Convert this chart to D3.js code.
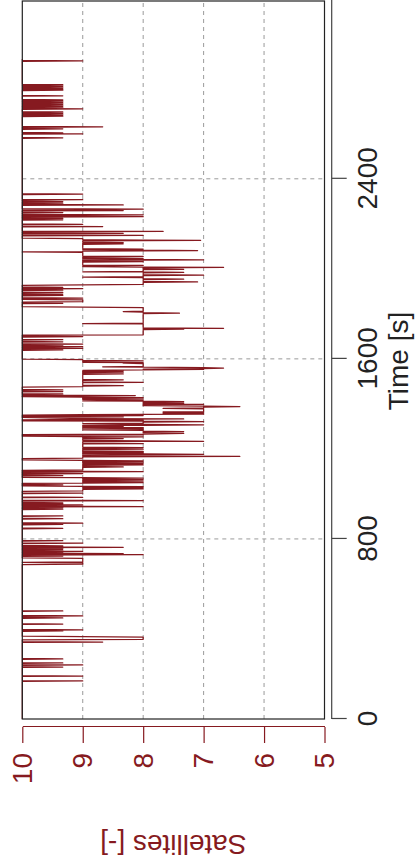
<!DOCTYPE html>
<html>
<head>
<meta charset="utf-8">
<script src="https://cdn.jsdelivr.net/npm/d3@7"></script>
<style>
  html, body { margin: 0; padding: 0; background: #fff; }
  svg { display: block; }
  text { font-family: "Liberation Sans", Arial, sans-serif; }
</style>
</head>
<body>
<svg id="chart" width="416" height="866"></svg>
<script>
// ---- data ----
const timeTicks = [0, 800, 1600, 2400];
const satTicks = [10, 9, 8, 7, 6, 5];
const timeLabel = "Time [s]";
const satLabel = "Satellites [-]";
// [time (s), satellites]
const samples = [
[0,10],
[167,10],[169,9],[171,10],
[189,10],[191,9],[193,10],
[229,10],[231,9.33],[233,10],
[238,10],[240,9],[242,10],
[247,10],[249,9.33],[251,10],
[265,10],[267,9.33],[269,10],
[340,10],[342,8.67],[344,10],
[352,10],[354,8],[364,8],[366,9],[368,10],
[389,10],[391,9.33],[393,10],
[394,10],[396,9],[398,10],
[420,10],[422,9.33],[424,10],
[447,10],[449,9.33],[451,10],
[456,10],[458,9],[460,10],
[478,10],[480,9.33],[482,10],
[686,10],[688,9],[694,9],[696,10],[698,9],[714,9],[716,10],
[722,10],[724,9.33],[726,10],
[728,10],[730,8],[732,10],
[733,10],[735,8.33],[737,10],
[738,10],[739,9.33],[741,10],
[743,10],[745,9],[747,10],
[749,10],[751,9.33],[753,10],
[755,10],[757,9.33],[759,10],
[761,10],[763,8.33],[765,10],
[767,10],[769,9.33],[771,10],
[779,10],[781,9],[783,10],
[790,10],[792,9.33],[794,10],
[845,10],[847,9.33],[849,10],
[863,10],[865,9.33],[867,10],
[868,10],[870,9],[872,10],
[888,10],[890,9.33],[892,10],
[900,10],[902,9.33],[904,10],
[930,10],[932,9.33],[934,10],
[937,10],[939,9.33],[941,10],
[942,10],[944,8],[946,10],
[949,10],[951,9],[953,10],
[955,10],[956,9.33],[958,10],[960,9.33],[962,10],
[968,10],[970,8],[972,10],
[983,10],[985,9],[987,10],
[1001,10],[1003,9],[1005,10],
[1011,10],[1013,9],[1020,9],[1022,8],[1024,9],[1027,8],[1029,9],[1032,8],[1034,9],[1036,10],
[1038,10],[1040,9.33],[1042,10],
[1047,10],[1048,9],[1050,8],[1052,9],[1055,9],[1057,8],[1059,9],[1061,9],[1063,8],[1065,9],[1068,9],[1070,8],[1072,9],[1074,10],
[1079,10],[1081,9.33],[1083,10],
[1088,10],[1090,9],[1092,10],
[1097,10],[1099,8],[1101,10],
[1105,10],[1107,9],[1118,9],[1120,8.33],[1122,9],[1127,9],[1129,8],[1131,9],[1133,9],[1135,8],[1137,9],[1139,9],[1141,8],[1143,9],[1145,9],[1147,8],[1149,9],[1151,10],
[1157,10],[1159,9],[1165,9],[1167,6.4],[1169,9],[1173,9],[1175,8],[1176,7],[1178,8],[1180,9],[1181,9],[1183,8],[1185,9],[1187,9],[1189,8],[1191,9],[1197,9],[1199,8],[1201,9],[1204,9],[1206,8],[1208,9],[1222,9],[1224,8],[1226,9],[1232,9],[1233,8],[1234,7],[1236,8],[1238,9],[1244,9],[1246,8.33],[1248,9],[1251,9],[1253,8],[1255,9],[1257,10],
[1260,10],[1262,8],[1264,10],
[1265,9],[1266,8],[1269,7.33],[1271,8],[1275,8],[1277,7.33],[1279,8],[1282,8],[1284,9],[1286,8],[1290,8],[1292,9],[1294,8],[1297,9],[1299,8.33],[1301,9],[1304,9],[1305,8],[1307,7],[1309,8],[1312,9],[1314,8],[1319,8],[1321,7],[1323,8],[1325,10],[1327,8],[1329,10],
[1331,9],[1333,7.33],[1335,9],
[1340,10],[1342,8.33],[1344,10],
[1346,10],[1348,8],[1350,10],
[1352,9],[1354,7],[1356,7.67],[1358,7],[1360,7.67],[1362,7],[1364,7.67],[1366,7],[1378,7],[1380,7.67],[1382,7],[1386,7],[1388,6.4],[1390,7],[1392,8],[1396,8],[1398,7],[1400,8],[1401,8],[1403,7.33],[1405,8],[1408,8],[1410,7.33],[1412,8],[1413,9],[1415,8],[1419,9],[1421,8],[1423,9],[1426,9],[1428,8],[1430,9],[1432,10],
[1435,10],[1437,8.13],[1439,10],
[1442,10],[1444,9.33],[1446,10],
[1453,10],[1455,9.33],[1457,10],
[1460,10],[1462,9.33],[1464,10],
[1475,10],[1477,9],[1479,9],[1481,8.33],[1483,9],[1494,9],[1496,8],[1498,9],[1505,9],[1507,8.33],[1509,9],[1531,9],[1533,8.33],[1535,9],[1539,9],[1541,8.33],[1543,9],[1545,9],[1547,8.33],[1549,9],[1551,8],[1553,7],[1555,8],[1557,7],[1559,6.67],[1561,7],[1563,8],[1565,8.67],[1567,8],[1579,8],[1581,8.33],[1583,8],[1585,9],[1589,9],[1591,8],[1593,9],[1597,9],[1599,10],
[1638,10],[1640,9.33],[1642,10],
[1645,10],[1647,9],[1649,10],
[1652,10],[1654,9],[1656,10],
[1659,10],[1661,9.33],[1663,10],
[1664,10],[1666,9],[1668,10],
[1674,10],[1676,9.33],[1678,10],
[1683,10],[1685,9.33],[1687,10],
[1697,10],[1699,9],[1701,10],
[1705,10],[1707,8],[1730,8],[1732,7.33],[1734,8],[1735,8],[1736,6.67],[1738,8],[1755,8],[1757,9],[1759,8],[1801,8],[1803,7.4],[1805,8],[1808,8],[1810,8.33],[1812,8],[1828,8],[1830,9],[1832,10],
[1845,10],[1847,9.33],[1849,10],
[1852,10],[1854,9],[1862,9],[1864,10],
[1868,10],[1870,9],[1872,10],
[1880,10],[1882,9.33],[1884,10],
[1886,10],[1888,9.33],[1890,10],
[1893,10],[1895,9.33],[1897,10],
[1903,10],[1905,9.33],[1907,10],
[1910,10],[1912,9],[1914,10],
[1916,10],[1918,9.33],[1920,10],
[1927,10],[1929,9],[1931,8],[1940,8],[1942,7.1],[1944,8],[1952,8],[1954,7.33],[1956,8],[1961,8],[1963,9],[1965,8],[1970,8],[1972,7],[1974,8],[1982,8],[1984,7.33],[1986,8],[1987,9],[1989,8],[1996,8],[1998,7.33],[2000,8],[2004,8],[2006,6.67],[2008,8],[2010,9],
[2013,9],[2015,8],[2017,9],[2030,9],[2032,8],[2034,9],[2038,9],[2039,8],[2040,7],[2042,8],[2044,9],[2046,9],[2047,8],[2049,9],[2053,9],[2055,8],[2057,9],[2073,9],[2075,10],[2077,9],[2079,9],[2080,8],[2081,7.1],[2083,8],[2085,9],[2087,9],[2088,8],[2090,9],[2109,9],[2111,8.33],[2113,9],[2115,9],[2117,8.33],[2119,9],[2124,9],[2125,8],[2126,7.05],[2128,8],[2130,9],[2134,9],[2136,10],
[2147,10],[2149,8],[2151,10],
[2156,10],[2158,8.33],[2160,10],
[2164,10],[2166,7.67],[2168,10],
[2186,10],[2188,8.67],[2190,10],
[2196,10],[2198,9],[2200,10],
[2216,10],[2218,9.33],[2220,10],
[2222,10],[2224,9.33],[2226,10],
[2230,10],[2232,8],[2234,10],
[2238,10],[2240,8],[2242,10],
[2248,10],[2250,9.33],[2252,10],
[2257,10],[2259,8.33],[2261,10],
[2263,9],[2265,8],[2267,10],
[2282,10],[2284,8.33],[2286,10],
[2290,10],[2292,9.33],[2294,10],
[2297,10],[2299,9.33],[2301,10],
[2305,10],[2307,9],[2309,10],
[2330,10],[2332,9],[2334,10],
[2580,10],[2582,9.33],[2584,10],
[2598,10],[2600,9],[2602,10],
[2603,10],[2604,9.33],[2606,10],
[2620,10],[2622,9.33],[2624,10],
[2629,10],[2631,8.67],[2633,10],
[2676,10],[2678,9.33],[2680,10],[2682,9.33],[2684,10],[2687,9.33],[2689,10],[2692,9.33],[2694,10],[2697,9.33],[2699,10],
[2709,10],[2711,9],[2713,10],
[2716,10],[2718,9.33],[2720,10],[2722,9.33],[2724,10],[2727,9.33],[2729,10],[2732,9.33],[2734,10],[2737,9.33],[2739,10],[2742,9.33],[2744,10],[2747,9.33],[2749,10],[2751,9.33],[2753,10],
[2767,10],[2769,9.33],[2771,10],
[2792,10],[2794,9.33],[2796,10],[2798,9.33],[2800,10],[2803,9.33],[2805,10],[2808,9.33],[2810,10],[2813,9.33],[2815,10],[2818,9.33],[2820,10],
[2922,10],[2924,9],[2926,10],[2932,10]
];
const timeDomain = [0, 3190];
const satDomain = [5, 10];

// ---- drawing (chart is drawn in its own frame, then turned a quarter turn) ----
const W = 866, H = 416;          // unrotated frame
const plot = { left: 147, right: 865, top: 22.3, bottom: 324.5 };
const darkRed = "#861a20";

const svg = d3.select("#chart");
const g = svg.append("g").attr("transform", `translate(0,${W}) rotate(-90)`);

const x = d3.scaleLinear().domain(timeDomain).range([plot.left, plot.right]);
const y = d3.scaleLinear().domain(satDomain).range([plot.bottom, plot.top]);

// grid
const grid = g.append("g").attr("stroke", "#9a9a9a").attr("stroke-width", 1).attr("stroke-dasharray", "4,4");
grid.selectAll("line.gx").data(timeTicks.filter(t => t > 0)).join("line")
  .attr("x1", d => x(d)).attr("x2", d => x(d)).attr("y1", plot.top).attr("y2", plot.bottom);
grid.selectAll("line.gy").data(satTicks.filter(s => s > 5 && s < 10)).join("line")
  .attr("x1", plot.left).attr("x2", plot.right).attr("y1", d => y(d)).attr("y2", d => y(d));

// data line
g.append("path")
  .datum(samples)
  .attr("fill", "none")
  .attr("stroke", darkRed)
  .attr("stroke-width", 1.25)
  .attr("stroke-linejoin", "round")
  .attr("d", d3.line().x(d => x(d[0])).y(d => y(d[1])));

// box
g.append("rect")
  .attr("x", plot.left).attr("y", plot.top)
  .attr("width", plot.right - plot.left).attr("height", plot.bottom - plot.top)
  .attr("fill", "none").attr("stroke", "#222").attr("stroke-width", 1.2);

// time axis (offset below the box)
const xAxis = g.append("g")
  .attr("transform", "translate(0,331.7)")
  .call(d3.axisBottom(x).tickValues(timeTicks).tickSize(15).tickSizeOuter(0).tickPadding(10).tickFormat(d3.format("d")));
xAxis.select(".domain").attr("stroke", "#444").attr("stroke-width", 1.2).attr("d", `M${plot.left},0H${W}`);
xAxis.selectAll(".tick line").attr("stroke", "#444").attr("stroke-width", 1.2);
xAxis.selectAll(".tick text").attr("fill", "#222").attr("font-size", 28).attr("font-family", '"Liberation Sans", Arial, sans-serif');

g.append("text")
  .attr("x", 505).attr("y", 398).attr("dy", "0.35em")
  .attr("text-anchor", "middle")
  .attr("font-size", 28).attr("fill", "#222")
  .text(timeLabel);

// satellites axis (offset left of the box)
const yAxis = g.append("g")
  .attr("transform", "translate(139,0)")
  .call(d3.axisLeft(y).tickValues(satTicks).tickSize(16).tickSizeOuter(0).tickPadding(10).tickFormat(d3.format("d")));
yAxis.select(".domain").attr("stroke", darkRed).attr("stroke-width", 1.2);
yAxis.selectAll(".tick line").attr("stroke", darkRed).attr("stroke-width", 1.2);
yAxis.selectAll(".tick text").attr("fill", darkRed).attr("font-size", 28).attr("font-family", '"Liberation Sans", Arial, sans-serif');

g.append("text")
  .attr("transform", `translate(21,${(plot.top + plot.bottom) / 2}) rotate(-90)`)
  .attr("dy", "0.35em")
  .attr("text-anchor", "middle")
  .attr("font-size", 28).attr("fill", darkRed)
  .text(satLabel);
</script>
</body>
</html>
